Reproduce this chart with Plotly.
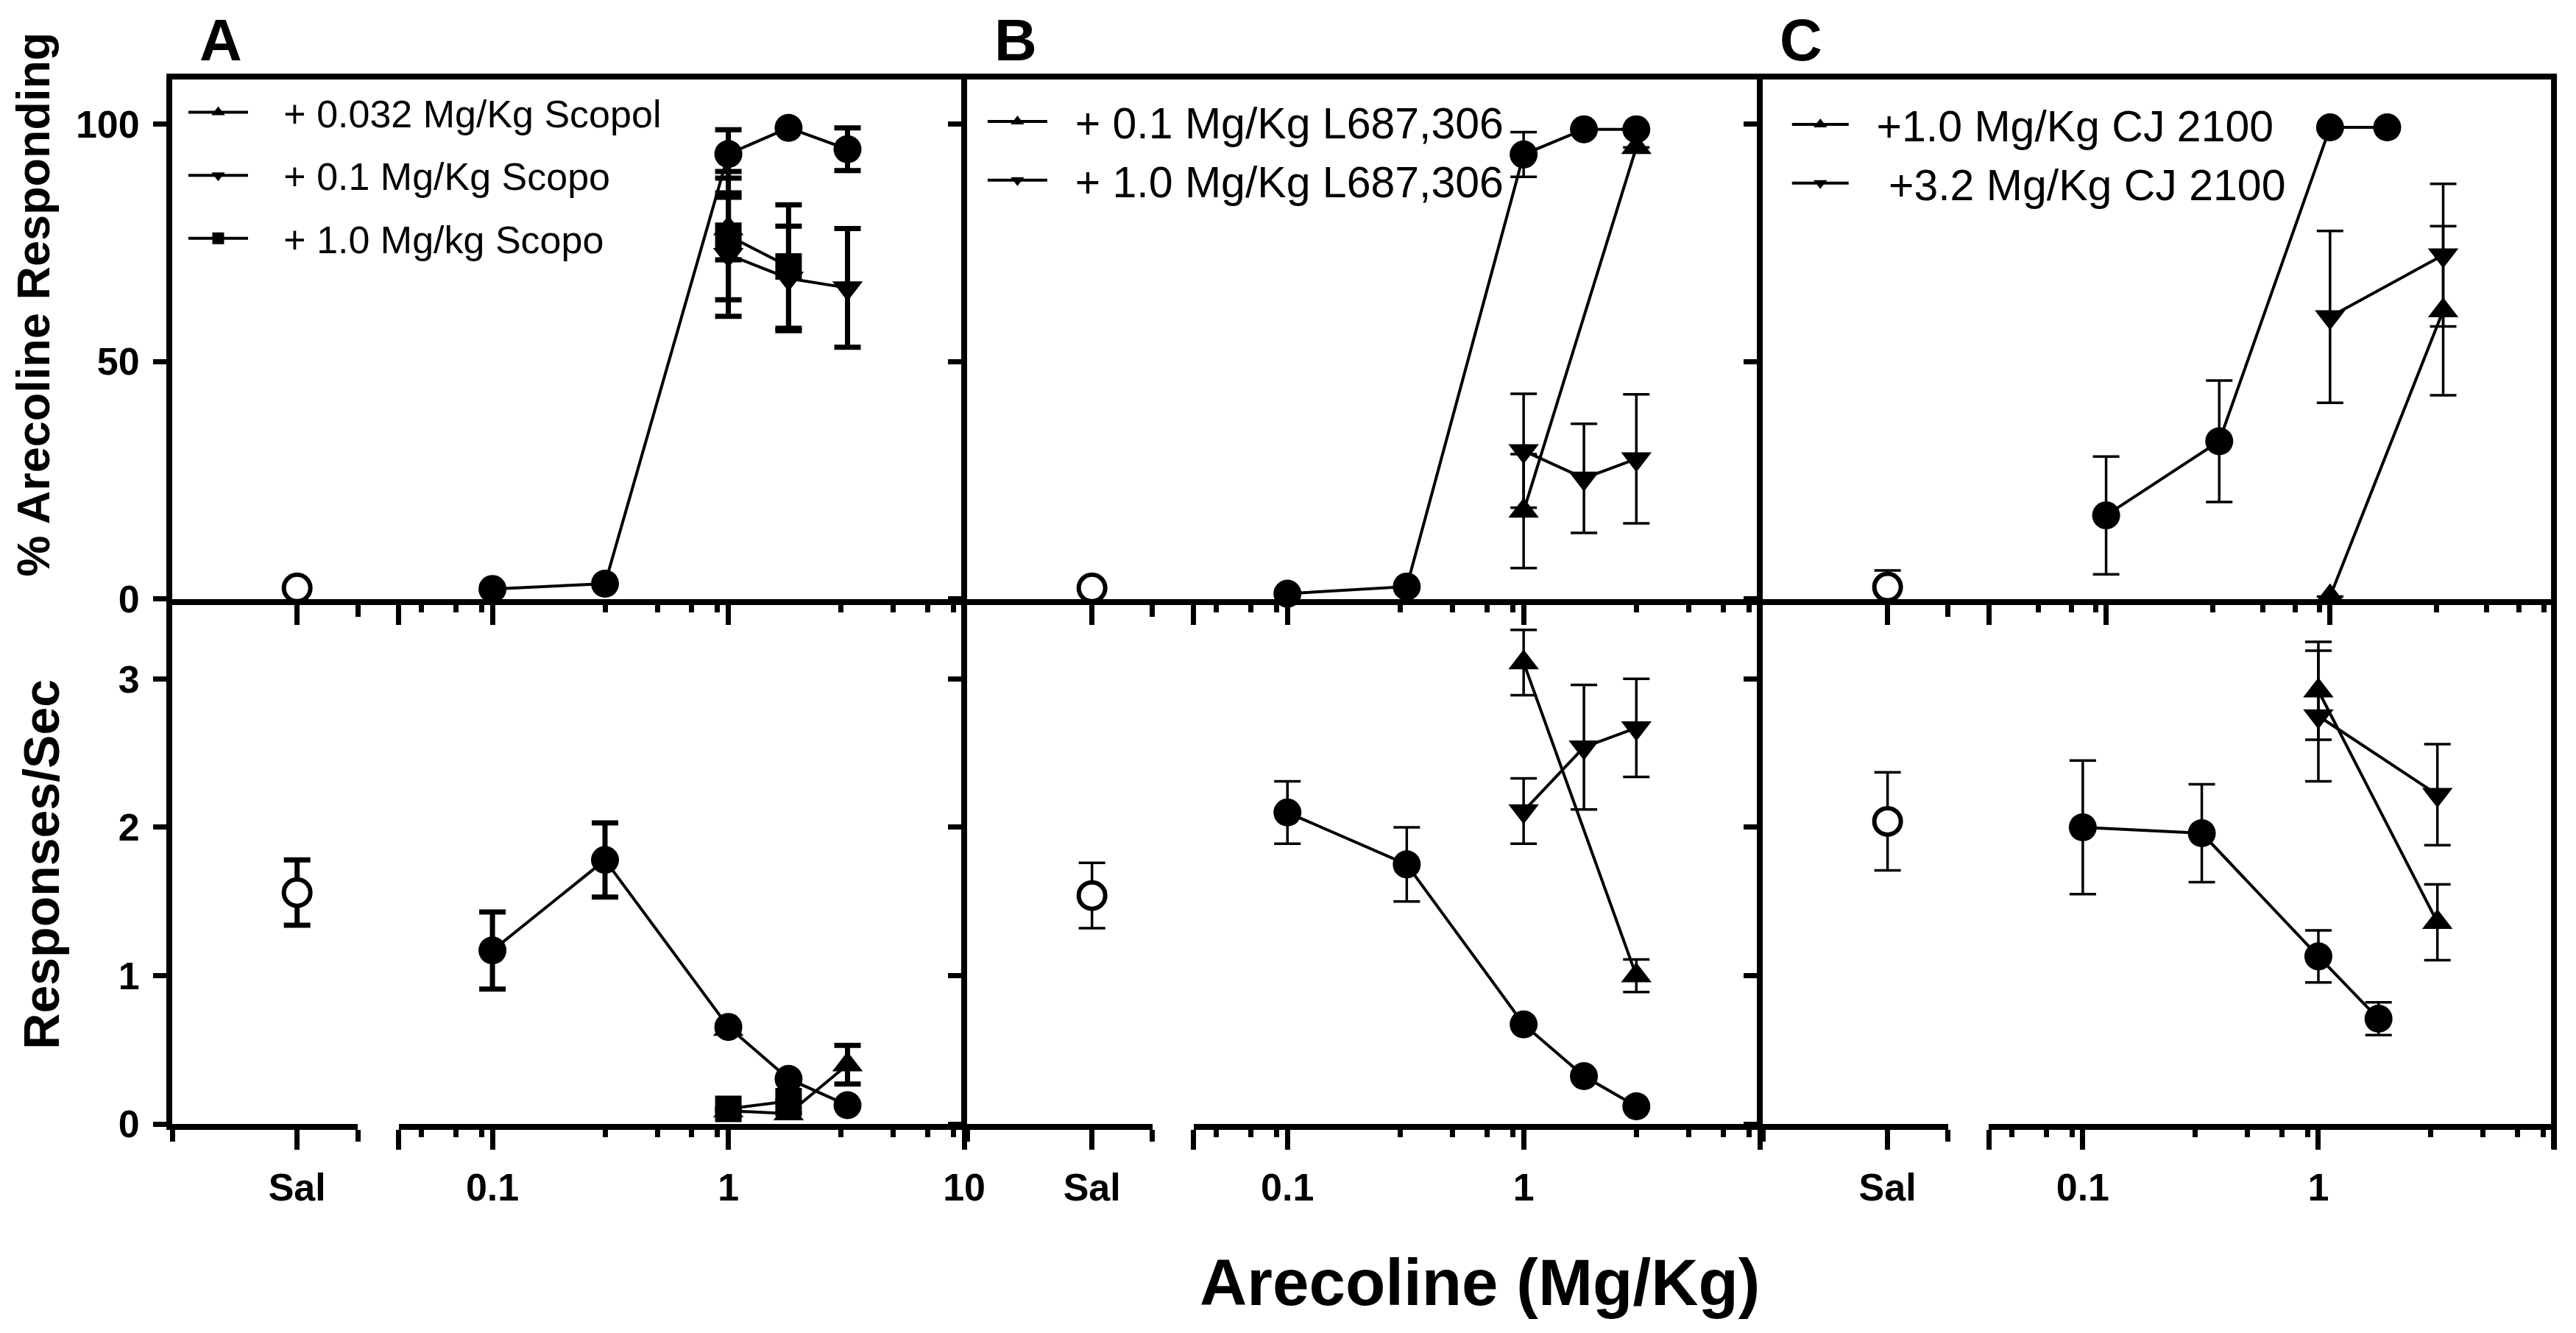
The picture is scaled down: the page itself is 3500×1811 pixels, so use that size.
import math
import plotly.graph_objects as go

W, H = 3500, 1811

# ---------------- data ----------------
SAL_TEXT = ["Sal"]
SAL_POS = [0]
Y_PCT_TICKS = [0, 50, 100]
Y_RATE_TICKS = [0, 1, 2, 3]
LOG_MAJOR = [0.1, 1, 10]
LOG_MINOR = [0.05, 0.07, 0.09, 0.3, 0.5, 0.7, 0.9, 3, 5, 7, 9]
LOG_TEXT_A = ["0.1", "1", "10"]
LOG_TEXT_BC = ["0.1", "1", ""]
PANEL_LETTERS = ["A", "B", "C"]

# Panel A : arecoline + scopolamine
a_dose = [0.1, 0.3, 1, 1.8, 3.2]
a_sal_pct, a_sal_pct_err = [2.3], [0]
a_pct = [2.1, 3.2, 93.7, 99.2, 94.7]
a_pct_err = [0, 0, 5.1, 0, 4.5]
a_sal_rate, a_sal_rate_err = [1.56], [0.22]
a_rate = [1.17, 1.78, 0.655, 0.305, 0.127]
a_rate_err = [0.26, 0.25, 0, 0, 0]

a_s032_name = "+ 0.032 Mg/Kg Scopol"
a_s032_dose = [1]
a_s032_pct = [78]
a_s032_pct_err = [6.6]
a_s032_rate = [0.64]
a_s032_rate_err = [0]

a_s01_name = "+ 0.1 Mg/Kg Scopo"
a_s01_dose = [1, 1.8, 3.2]
a_s01_pct = [72.5, 67.5, 65.5]
a_s01_pct_err = [13, 11, 12.5]
a_s01_rate = [0.09, 0.07, 0.40]
a_s01_rate_err = [0, 0, 0.13]

a_s10_name = "+ 1.0 Mg/kg Scopo"
a_s10_dose = [1, 1.8]
a_s10_pct = [76.5, 70]
a_s10_pct_err = [13.5, 13]
a_s10_rate = [0.103, 0.155]
a_s10_rate_err = [0, 0]

# Panel B : arecoline + L687,306
b_dose = [0.1, 0.32, 1, 1.8, 3.0]
b_sal_pct, b_sal_pct_err = [2.3], [0]
b_pct = [1.1, 2.6, 93.6, 98.9, 98.9]
b_pct_err = [0, 0, 4.7, 0, 0]
b_sal_rate, b_sal_rate_err = [1.54], [0.22]
b_rate = [2.10, 1.75, 0.672, 0.323, 0.12]
b_rate_err = [0.21, 0.25, 0, 0, 0]

b_l01_name = "+ 0.1 Mg/Kg L687,306"
b_l01_dose = [1, 3.0]
b_l01_pct = [18.5, 95.1]
b_l01_pct_err = [12, 0]
b_l01_rate = [3.11, 1.0]
b_l01_rate_err = [0.22, 0.11]

b_l10_name = "+ 1.0 Mg/Kg L687,306"
b_l10_dose = [1, 1.8, 3.0]
b_l10_pct = [31.2, 25.4, 29.5]
b_l10_pct_err = [12, 11.5, 13.6]
b_l10_rate = [2.11, 2.54, 2.67]
b_l10_rate_err = [0.22, 0.42, 0.33]

# Panel C : arecoline + CJ 2100
c_dose = [0.1, 0.32, 1, 1.8]
c_sal_pct, c_sal_pct_err = [2.5], [3.5]
c_pct = [17.6, 33.2, 99.3, 99.3]
c_pct_err = [12.4, 12.8, 0, 0]
c_sal_rate, c_sal_rate_err = [2.04], [0.33]
c_rate = [2.00, 1.96, 1.13, 0.71]
c_rate_err = [0.45, 0.33, 0.175, 0.11]

c_cj10_name = "+1.0 Mg/Kg CJ 2100"
c_cj10_dose = [1, 3.2]
c_cj10_pct = [0.5, 60.7]
c_cj10_pct_err = [0, 17.8]
c_cj10_rate = [2.92, 1.36]
c_cj10_rate_err = [0.33, 0.255]

c_cj32_name = "+3.2 Mg/Kg CJ 2100"
c_cj32_dose = [1, 3.2]
c_cj32_pct = [59.4, 72.4]
c_cj32_pct_err = [18.1, 15]
c_cj32_rate = [2.75, 2.22]
c_cj32_rate_err = [0.44, 0.34]

LOG_LOW = [[0.04, 0.04], [0.04, 0.04], [0.03, 0.04]]   # [upper, lower] log-axis start per panel
LOG_HIGH = 10
PCT_RANGE = [0, 110]
RATE_RANGE = [0, 3.5]

# ---------------- geometry / style ----------------
FONT = "Liberation Sans, Arial, Helvetica, sans-serif"
PANEL_L = [224, 1313, 2403]
PANEL_R = [1313, 2403, 3491]
TOP, MID, BOT = 97.6, 822.8, 1547.9
LW = 8
SAL_AT, SAL_END, LOG_START = 175, 258, 314
K = 171.0
NB = "\u00a0"

fig = go.Figure()
layout = dict(width=W, height=H, autosize=False, margin=dict(l=0, r=0, t=0, b=0, pad=0),
              paper_bgcolor="white", plot_bgcolor="white", showlegend=True)


def clean(e):
    return [v if v else None for v in e]


def marker(sym, open_=False):
    if open_:
        return dict(symbol="circle", size=36, color="white", line=dict(color="black", width=6))
    size = 38 if sym == "circle" else 36
    return dict(symbol=sym, size=size, color="black", line=dict(width=0))


def add(xa, ya, x, y, e, sym, panel, name=None, legend=None, rank=None, pad=0, open_=False, lines=True):
    thick = 7 if panel == 0 else 3.5
    fig.add_trace(go.Scatter(
        x=x, y=y, xaxis=xa, yaxis=ya,
        mode="lines+markers" if lines else "markers",
        line=dict(color="black", width=4),
        marker=marker(sym, open_),
        error_y=dict(type="data", array=clean(e), visible=True, color="black",
                     thickness=thick, width=18),
        cliponaxis=False,
        name=(NB * pad + name) if name else "",
        showlegend=bool(legend),
        legend=legend if legend else "legend",
        legendgroup=name if name else None,
        legendrank=rank if rank else 1000,
    ))


for p in range(3):
    L, R = PANEL_L[p], PANEL_R[p]
    for r in range(2):
        k = p * 2 + r
        xs, xl, yy = 2 * k + 1, 2 * k + 2, k + 1
        if r == 0:
            ytop, ybot = TOP, MID - LW / 2
            sal_dom_end = L + LOG_START
        else:
            ytop, ybot = MID + LW / 2, BOT - LW / 2
            sal_dom_end = L + SAL_END
        ydom = [1 - ybot / H, 1 - ytop / H]
        sal_range = [-(SAL_AT - LW / 2) / K, (sal_dom_end - L - SAL_AT) / K]
        seg_end = (SAL_END - SAL_AT) / K
        sal_minor = [sal_range[0], seg_end] if r == 1 else [seg_end]
        common_x = dict(showgrid=False, zeroline=False, showline=True, linewidth=LW,
                        linecolor="black", ticks="outside", tickwidth=7, ticklen=27,
                        tickcolor="black", anchor="y%d" % yy if yy > 1 else "y",
                        tickfont=dict(family=FONT, size=52, color="black", weight="bold"),
                        showticklabels=(r == 1), ticklabelstandoff=6)
        layout["xaxis%d" % xs if xs > 1 else "xaxis"] = dict(
            common_x, type="linear", domain=[(L + LW / 2) / W, sal_dom_end / W],
            range=sal_range, tickmode="array", tickvals=SAL_POS, ticktext=SAL_TEXT,
            minor=dict(tickmode="array", tickvals=sal_minor, ticks="outside", ticklen=16,
                       tickwidth=7, tickcolor="black", showgrid=False))
        lo = LOG_LOW[p][r]
        log_text = LOG_TEXT_A if p == 0 else LOG_TEXT_BC
        layout["xaxis%d" % xl] = dict(
            common_x, type="log", domain=[(L + LOG_START) / W, R / W],
            range=[math.log10(lo), math.log10(LOG_HIGH)], tickmode="array",
            tickvals=[lo] + LOG_MAJOR, ticktext=[""] + log_text,
            minor=dict(tickmode="array", tickvals=LOG_MINOR, ticks="outside", ticklen=10,
                       tickwidth=7, tickcolor="black", showgrid=False))
        ticks = Y_PCT_TICKS if r == 0 else Y_RATE_TICKS
        layout["yaxis%d" % yy if yy > 1 else "yaxis"] = dict(
            domain=ydom, range=PCT_RANGE if r == 0 else RATE_RANGE,
            anchor="x%d" % xs if xs > 1 else "x", showgrid=False, zeroline=False,
            showline=True, linewidth=LW, linecolor="black", ticks="outside", ticklen=18,
            tickwidth=7, tickcolor="black", tickmode="array", tickvals=ticks,
            ticktext=[str(t) for t in ticks], showticklabels=(p == 0),
            tickfont=dict(family=FONT, size=52, color="black", weight="bold"),
            ticklabelstandoff=8)


def ax(n):
    return "x" if n == 1 else "x%d" % n


def ay(n):
    return "y" if n == 1 else "y%d" % n


# ---- panel A ----
add(ax(2), ay(1), a_dose, a_pct, a_pct_err, "circle", 0)
add(ax(2), ay(1), a_s01_dose, a_s01_pct, a_s01_pct_err, "triangle-down", 0, a_s01_name, "legend", 2, 3)
add(ax(2), ay(1), a_s10_dose, a_s10_pct, a_s10_pct_err, "square", 0, a_s10_name, "legend", 3, 3)
add(ax(2), ay(1), a_s032_dose, a_s032_pct, a_s032_pct_err, "triangle-up", 0, a_s032_name, "legend", 1, 3)
add(ax(1), ay(1), SAL_POS, a_sal_pct, a_sal_pct_err, "circle", 0, open_=True, lines=False)
add(ax(4), ay(2), a_dose, a_rate, a_rate_err, "circle", 0)
add(ax(4), ay(2), a_s01_dose, a_s01_rate, a_s01_rate_err, "triangle-up", 0)
add(ax(4), ay(2), a_s10_dose, a_s10_rate, a_s10_rate_err, "square", 0)
add(ax(4), ay(2), a_s032_dose, a_s032_rate, a_s032_rate_err, "triangle-up", 0)
add(ax(3), ay(2), SAL_POS, a_sal_rate, a_sal_rate_err, "circle", 0, open_=True, lines=False)

# ---- panel B ----
add(ax(6), ay(3), b_dose, b_pct, b_pct_err, "circle", 1)
add(ax(6), ay(3), b_l10_dose, b_l10_pct, b_l10_pct_err, "triangle-down", 1, b_l10_name, "legend2", 2, 2)
add(ax(6), ay(3), b_l01_dose, b_l01_pct, b_l01_pct_err, "triangle-up", 1, b_l01_name, "legend2", 1, 2)
add(ax(5), ay(3), SAL_POS, b_sal_pct, b_sal_pct_err, "circle", 1, open_=True, lines=False)
add(ax(8), ay(4), b_dose, b_rate, b_rate_err, "circle", 1)
add(ax(8), ay(4), b_l01_dose, b_l01_rate, b_l01_rate_err, "triangle-up", 1)
add(ax(8), ay(4), b_l10_dose, b_l10_rate, b_l10_rate_err, "triangle-down", 1)
add(ax(7), ay(4), SAL_POS, b_sal_rate, b_sal_rate_err, "circle", 1, open_=True, lines=False)

# ---- panel C ----
add(ax(10), ay(5), c_dose, c_pct, c_pct_err, "circle", 2)
add(ax(10), ay(5), c_cj32_dose, c_cj32_pct, c_cj32_pct_err, "triangle-down", 2, c_cj32_name, "legend3", 2, 3)
add(ax(10), ay(5), c_cj10_dose, c_cj10_pct, c_cj10_pct_err, "triangle-up", 2, c_cj10_name, "legend3", 1, 2)
add(ax(9), ay(5), SAL_POS, c_sal_pct, c_sal_pct_err, "circle", 2, open_=True, lines=False)
add(ax(12), ay(6), c_dose, c_rate, c_rate_err, "circle", 2)
add(ax(12), ay(6), c_cj10_dose, c_cj10_rate, c_cj10_rate_err, "triangle-up", 2)
add(ax(12), ay(6), c_cj32_dose, c_cj32_rate, c_cj32_rate_err, "triangle-down", 2)
add(ax(11), ay(6), SAL_POS, c_sal_rate, c_sal_rate_err, "circle", 2, open_=True, lines=False)


def legend_cfg(line_x0, line_len, top_px, size, gap, order):
    return dict(x=(line_x0 - 5) / W, y=1 - top_px / H, xanchor="left", yanchor="top",
                bgcolor="rgba(0,0,0,0)", borderwidth=0, itemwidth=line_len,
                font=dict(family=FONT, size=size, color="black"),
                tracegroupgap=gap, traceorder=order, itemclick=False)


layout["legend"] = legend_cfg(250, 81, 106, 52, 15, "grouped")
layout["legend2"] = legend_cfg(1345, 81, 114, 59, 0, "normal")
layout["legend3"] = legend_cfg(2447, 77, 118, 59, 0, "grouped")

ann = []
for letter, xl_ in zip(PANEL_LETTERS, [263, 1352, 2428]):
    ann.append(dict(text=letter, x=xl_ / W, y=1.0, xref="paper", yref="paper",
                    xanchor="left", yanchor="top", showarrow=False,
                    font=dict(family=FONT, size=80, color="black", weight="bold")))
ann.append(dict(text="% Arecoline Responding", x=0.0, y=1 - 412 / H, xref="paper", yref="paper",
                textangle=-90, xanchor="left", yanchor="middle", showarrow=False,
                font=dict(family=FONT, size=63, color="black", weight="bold")))
ann.append(dict(text="Responses/Sec", x=48 / W, y=1 - 1185 / H, xref="paper", yref="paper",
                textangle=-90, xanchor="center", yanchor="middle", showarrow=False,
                font=dict(family=FONT, size=68, color="black", weight="bold")))
ann.append(dict(text="Arecoline (Mg/Kg)", x=2019 / W, y=1 - 1762 / H, xref="paper", yref="paper",
                xanchor="center", yanchor="middle", showarrow=False,
                font=dict(family=FONT, size=89, color="black", weight="bold")))
layout["annotations"] = ann

layout["shapes"] = [
    dict(type="line", xref="paper", yref="paper", x0=(PANEL_L[0] - LW / 2) / W, x1=(PANEL_R[2] + LW / 2) / W,
         y0=1 - TOP / H, y1=1 - TOP / H, line=dict(color="black", width=LW)),
    dict(type="line", xref="paper", yref="paper", x0=PANEL_R[2] / W, x1=PANEL_R[2] / W,
         y0=1 - TOP / H, y1=1 - (BOT + 31) / H, line=dict(color="black", width=LW)),
]

fig.update_layout(**layout)
fig.write_html("out.html")
